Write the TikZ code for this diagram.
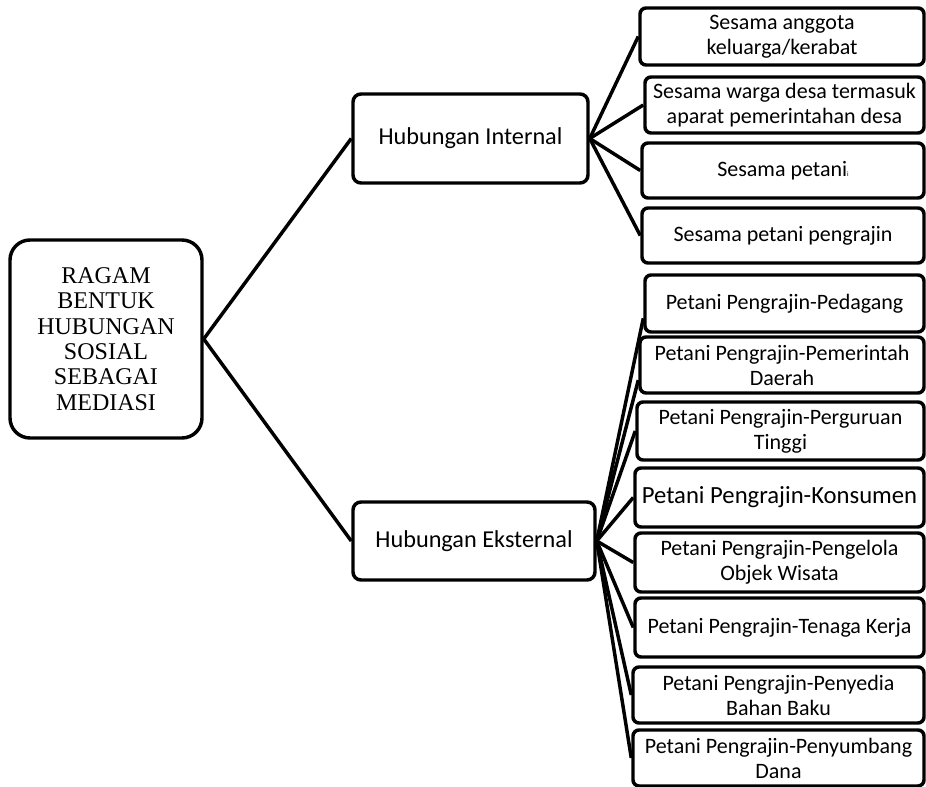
\documentclass[tikz,border=0pt]{standalone}
\usepackage{fontspec}
\setmainfont{Carlito}
\newfontfamily\rootfont{Liberation Serif}
\tikzset{
  box/.style={draw, line width=2.6pt, rounded corners=4.5pt, inner sep=0pt, align=center,
    font=\fontsize{16.5}{18.75}\selectfont},
  leaf/.style={box, minimum height=42pt},
  mid/.style={box, rounded corners=6pt, font=\fontsize{18.2}{20}\selectfont},
  link/.style={line width=2.6pt}
}
\begin{document}
\begin{tikzpicture}[x=0.75pt,y=-0.75pt]
\useasboundingbox (0,0) rectangle (926,787);
% root
\node[box, rounded corners=15pt, minimum width=144pt, minimum height=148.5pt,
  font=\rootfont\fontsize{18}{19}\selectfont] (ragam) at (106,339)
  {RAGAM\\BENTUK\\HUBUNGAN\\SOSIAL\\SEBAGAI\\MEDIASI};
% two branches
\node[mid, minimum width=176.25pt, minimum height=66.75pt] (internal) at (470.5,138.5) {Hubungan Internal};
\node[mid, minimum width=181.5pt, minimum height=58.5pt] (eksternal) at (474,541) {Hubungan Eksternal};
% internal leaves
\node[leaf, minimum width=213pt, minimum height=42.75pt] (anggota) at (782,36.5) {Sesama anggota\\keluarga/kerabat};
\node[leaf, minimum width=209.25pt] (warga) at (784.5,105) {Sesama warga desa termasuk\\aparat pemerintahan desa};
\node[leaf, minimum width=211.5pt, minimum height=41.25pt] (petani) at (783,170.5) {Sesama petani{\fontsize{5}{5}\selectfont i}};
\node[leaf, minimum width=211.5pt, minimum height=41.25pt] (pengrajin) at (783,235.5) {Sesama petani pengrajin};
% eksternal leaves
\node[leaf, minimum width=209.25pt, minimum height=42.75pt] (pedagang) at (784.5,303.5) {Petani Pengrajin-Pedagang};
\node[leaf, minimum width=213pt] (pemda) at (782,365) {Petani Pengrajin-Pemerintah\\Daerah};
\node[leaf, minimum width=215.25pt, minimum height=43.5pt] (pt) at (780.5,431) {Petani Pengrajin-Perguruan\\Tinggi};
\node[leaf, minimum width=216.75pt, minimum height=44.25pt, font=\fontsize{18.5}{20}\selectfont] (konsumen) at (779.5,497.5) {Petani Pengrajin-Konsumen};
\node[leaf, minimum width=216.75pt, minimum height=44.25pt] (wisata) at (779.5,562.5) {Petani Pengrajin-Pengelola\\Objek Wisata};
\node[leaf, minimum width=216.75pt, minimum height=44.25pt] (tenaga) at (779.5,627.5) {Petani Pengrajin-Tenaga Kerja};
\node[leaf, minimum width=218.25pt] (bahan) at (778.5,695) {Petani Pengrajin-Penyedia\\Bahan Baku};
\node[leaf, minimum width=218.25pt, minimum height=42pt] (dana) at (778.5,758) {Petani Pengrajin-Penyumbang\\Dana};
% connectors
\draw[link] (ragam.east) -- (internal.west);
\draw[link] (ragam.east) -- (eksternal.west);
\draw[link] (internal.east) -- (anggota.west);
\draw[link] (internal.east) -- (warga.west);
\draw[link] (internal.east) -- (petani.west);
\draw[link] (internal.east) -- (pengrajin.west);
\draw[link] (eksternal.east) -- (pedagang.186);
\draw[link] (eksternal.east) -- (pemda.186);
\draw[link] (eksternal.east) -- (pt.west);
\draw[link] (eksternal.east) -- (konsumen.west);
\draw[link] (eksternal.east) -- (wisata.west);
\draw[link] (eksternal.east) -- (tenaga.west);
\draw[link] (eksternal.east) -- (bahan.west);
\draw[link] (eksternal.east) -- (dana.west);
\end{tikzpicture}
\end{document}
